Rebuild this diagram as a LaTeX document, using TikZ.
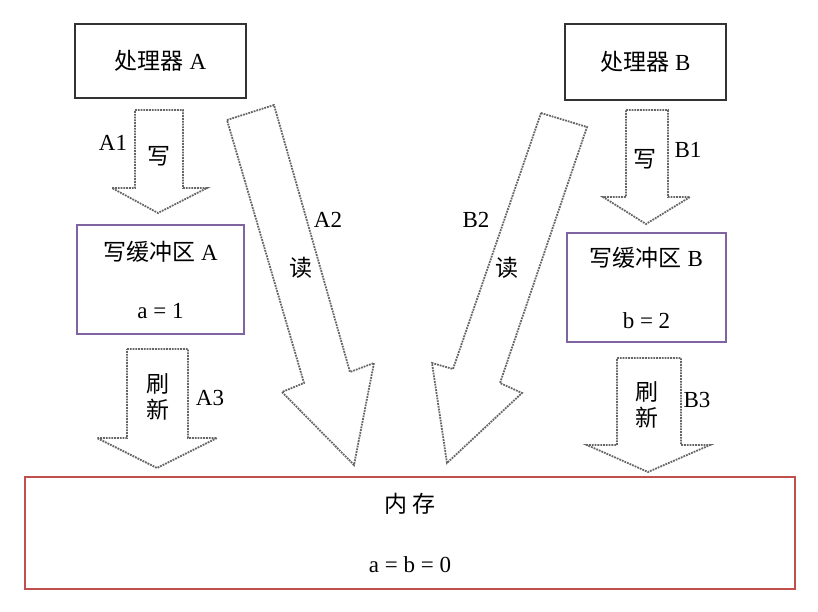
\documentclass[tikz,border=0pt]{standalone}
\usepackage{fontspec}
\setmainfont{Liberation Serif}
\newfontfamily\cjk{Noto Sans CJK SC}
\usetikzlibrary{positioning}

\definecolor{bufpurple}{HTML}{8064A2}
\definecolor{memred}{HTML}{C0504D}

\tikzset{
  procbox/.style={draw=black!80,line width=1.6pt,inner sep=0pt},
  bufbox/.style={draw=bufpurple,line width=1.6pt,inner sep=0pt,align=center},
  membox/.style={draw=memred,line width=1.6pt,inner sep=0pt,align=center},
  blockarrow/.style={draw=black!60,densely dotted,line width=1.8pt,fill=white},
  tag/.style={inner sep=0pt}
}

\begin{document}
\begin{tikzpicture}[x=1pt,y=-1pt,font=\fontsize{23}{28}\selectfont]
  \useasboundingbox (0,0) rectangle (818,612);

  % boxes
  \node[procbox,minimum width=171pt,minimum height=74pt] (procA) at (160.5,61)
    {{\cjk 处理器} A};
  \node[procbox,minimum width=161pt,minimum height=76pt] (procB) at (645.5,62)
    {{\cjk 处理器} B};
  \node[bufbox,minimum width=167pt,minimum height=109pt] (bufA) at (160.5,279.5)
    {{\cjk 写缓冲区} A\\[30pt]a = 1};
  \node[bufbox,minimum width=159pt,minimum height=109pt] (bufB) at (646.5,287.5)
    {{\cjk 写缓冲区} B\\[34pt]b = 2};
  \node[membox,minimum width=770pt,minimum height=112pt] (mem) at (410,533)
    {{\cjk 内\ 存}\\[32pt]a = b = 0};

  % write arrows
  \draw[blockarrow] (135,110) -- (183,110) -- (183,188) -- (207,188) -- (158,213)
    -- (112,188) -- (135,188) -- cycle;
  \draw[blockarrow] (626,110) -- (668,110) -- (668,197) -- (690,197) -- (646,224)
    -- (603,197) -- (626,197) -- cycle;

  % read arrows
  \draw[blockarrow] (227,120) -- (274,105) -- (350,372) -- (374,363) -- (354,465)
    -- (282,392) -- (304,383) -- cycle;
  \draw[blockarrow] (541,113) -- (587,127) -- (500,383) -- (522,393) -- (447,463)
    -- (432,363) -- (453,369) -- cycle;

  % flush arrows
  \draw[blockarrow] (127,349) -- (188,349) -- (188,438) -- (217,438) -- (157,468)
    -- (97,438) -- (127,438) -- cycle;
  \draw[blockarrow] (617,358) -- (681,358) -- (681,445) -- (710,445) -- (648,472)
    -- (587,445) -- (617,445) -- cycle;

  % labels
  \node[tag] (wA) at (159,156) {\cjk 写};
  \node[tag] (tA1) at (113,143) {A1};
  \node[tag] (wB) at (645,159) {\cjk 写};
  \node[tag] (tB1) at (688,150) {B1};
  \node[tag] (rA) at (301,268) {\cjk 读};
  \node[tag] (tA2) at (328,220) {A2};
  \node[tag] (rB) at (507,268) {\cjk 读};
  \node[tag] (tB2) at (476,220) {B2};
  \node[tag,align=center] (fA) at (158,397) {\cjk 刷\\[-2pt]\cjk 新};
  \node[tag] (tA3) at (210,398) {A3};
  \node[tag,align=center] (fB) at (647,405) {\cjk 刷\\[-2pt]\cjk 新};
  \node[tag] (tB3) at (697,400) {B3};
\end{tikzpicture}
\end{document}
